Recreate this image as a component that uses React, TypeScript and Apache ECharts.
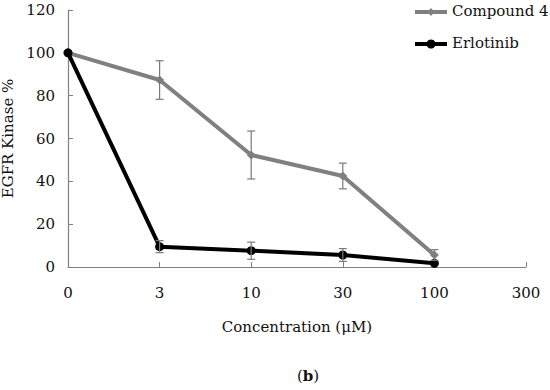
import React, { useEffect, useRef } from "react";
import * as echarts from "echarts";

const categories = ["0", "3", "10", "30", "100", "300"];
const yTicks = [0, 20, 40, 60, 80, 100, 120];
const seriesNames = ["Compound 4", "Erlotinib"];
const compound = [100, 87.3, 52.3, 42.5, 5.6];
const compoundErr = [0, 9, 11.2, 6, 2.5];
const erlotinib = [100, 9.5, 7.6, 5.6, 1.7];
const erlotinibErr = [0, 2.8, 4, 3, 0];

const FONT = "DejaVu Serif";
const GRAY = "#808080";

function errData(vals: number[], errs: number[]) {
  return vals.map((v, i) => [i, v - errs[i], v + errs[i]]).filter((d, i) => errs[i] > 0);
}

function errSeries(vals: number[], errs: number[]) {
  return {
    type: "custom",
    z: 5,
    silent: true,
    data: errData(vals, errs),
    renderItem: (params: any, api: any) => {
      const x = api.value(0);
      const lo = api.coord([x, api.value(1)]);
      const hi = api.coord([x, api.value(2)]);
      const w = 4;
      const style = { stroke: "#7a7a7a", lineWidth: 1.2 };
      return {
        type: "group",
        children: [
          { type: "line", shape: { x1: lo[0], y1: lo[1], x2: hi[0], y2: hi[1] }, style },
          { type: "line", shape: { x1: lo[0] - w, y1: lo[1], x2: lo[0] + w, y2: lo[1] }, style },
          { type: "line", shape: { x1: hi[0] - w, y1: hi[1], x2: hi[0] + w, y2: hi[1] }, style },
        ],
      };
    },
  };
}

function legendMarks(color: string, y: number, diamond: boolean) {
  const x0 = 415;
  const x1 = 447;
  const cx = (x0 + x1) / 2;
  const marker = diamond
    ? { type: "polygon", shape: { points: [[cx, y - 4], [cx + 3.5, y], [cx, y + 4], [cx - 3.5, y]] }, style: { fill: color } }
    : { type: "circle", shape: { cx, cy: y, r: 4.5 }, style: { fill: color } };
  return [
    { type: "line", shape: { x1: x0, y1: y, x2: x1, y2: y }, style: { stroke: color, lineWidth: 4 } },
    marker,
  ];
}

const titleText = (text: string, left: number, top: number, bold = false) => ({
  text,
  left,
  top,
  padding: 0,
  textStyle: { fontFamily: FONT, fontSize: 15, fontWeight: bold ? "bold" : "normal", color: "#111" },
});

export default function App() {
  const ref = useRef<HTMLDivElement>(null);
  useEffect(() => {
    document.body.style.margin = "0";
    const chart = echarts.init(ref.current!, null, { renderer: "svg" });
    chart.setOption({
      animation: false,
      textStyle: { fontFamily: FONT },
      title: [
        titleText(seriesNames[0], 452, 3),
        titleText(seriesNames[1], 452, 35),
        {
          text: "({b|b})",
          left: 297,
          top: 368,
          padding: 0,
          textStyle: {
            fontFamily: FONT,
            fontSize: 15,
            fontWeight: "normal",
            color: "#111",
            rich: { b: { fontFamily: FONT, fontSize: 15, fontWeight: "bold", color: "#111" } },
          },
        },
      ],
      grid: { left: 68, right: 24, top: 10, bottom: 123, outerBoundsMode: "none", containLabel: false },
      xAxis: {
        type: "category",
        data: categories,
        boundaryGap: false,
        name: "Concentration (μM)",
        nameLocation: "middle",
        nameGap: 52,
        nameTextStyle: { fontFamily: FONT, fontSize: 15, color: "#111" },
        axisLine: { lineStyle: { color: GRAY, width: 1.2 } },
        axisTick: { inside: true, length: 5, lineStyle: { color: GRAY } },
        axisLabel: { margin: 18, fontSize: 15, color: "#111", fontFamily: FONT },
        splitLine: { show: false },
      },
      yAxis: {
        type: "value",
        min: yTicks[0],
        max: yTicks[yTicks.length - 1],
        interval: 20,
        name: "EGFR Kinase %",
        nameLocation: "middle",
        nameGap: 44,
        nameTextStyle: { fontFamily: FONT, fontSize: 15, color: "#111" },
        axisLine: { show: true, lineStyle: { color: GRAY, width: 1.2 } },
        axisTick: { show: true, inside: true, length: 5, lineStyle: { color: GRAY } },
        axisLabel: { margin: 13, fontSize: 15, color: "#111", fontFamily: FONT },
        splitLine: { show: false },
      },
      series: [
        {
          name: seriesNames[0],
          type: "line",
          data: compound,
          symbol: "diamond",
          symbolSize: 9,
          z: 3,
          lineStyle: { color: GRAY, width: 4 },
          itemStyle: { color: GRAY },
        },
        {
          name: seriesNames[1],
          type: "line",
          data: erlotinib,
          symbol: "circle",
          symbolSize: 9,
          z: 4,
          lineStyle: { color: "#000", width: 4 },
          itemStyle: { color: "#000" },
        },
        errSeries(compound, compoundErr),
        errSeries(erlotinib, erlotinibErr),
      ],
      graphic: [...legendMarks(GRAY, 12, true), ...legendMarks("#000", 44, false)],
    });
    return () => chart.dispose();
  }, []);
  return <div ref={ref} style={{ width: 550, height: 390 }} />;
}
